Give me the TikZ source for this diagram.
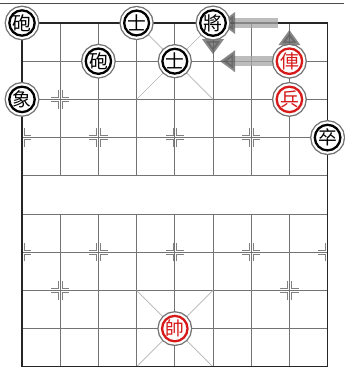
\documentclass[tikz,border=0pt]{standalone}
\usepackage{fontspec}
\newfontfamily\cjk{Noto Sans CJK TC}
\definecolor{xqred}{RGB}{215,25,25}
\usetikzlibrary{arrows.meta}

\begin{document}
\begin{tikzpicture}[
  grid/.style={draw=black!55,line width=0.5pt},
  frame/.style={draw=black!85,line width=0.8pt},
  palace/.style={draw=black!30,line width=0.5pt},
  markline/.style={draw=black!50,line width=0.5pt},
  piece/.style={circle,minimum size=18.5pt,inner sep=0pt,fill=white,
    preaction={draw=black!55,line width=7pt},
    preaction={draw=white,line width=5pt},
    draw=black,line width=1.7pt,font=\cjk\fontsize{14}{14}\selectfont},
  redpiece/.style={piece,draw=xqred,text=xqred},
  move/.style={draw=black!35,opacity=0.75,line width=7pt,
    shorten <=0.3cm,shorten >=0.18cm,
    -{Triangle[length=0.4cm,width=0.55cm,color=black!62]}}
]
  \useasboundingbox (-0.576,0.602) rectangle (8.43,-9.11);
  \foreach \c in {0,...,8}
    \foreach \r in {0,...,9}
      \coordinate (p\c\r) at (\c,-\r);

  % board
  \foreach \r in {1,...,8}
    \draw[grid] (p0\r) -- (p8\r);
  \foreach \c in {1,...,7} {
    \draw[grid] (p\c0) -- (p\c4);
    \draw[grid] (p\c5) -- (p\c9);
  }
  \draw[palace] (p30) -- (p52) (p50) -- (p32);
  \draw[palace] (p37) -- (p59) (p57) -- (p39);
  \draw[frame] (p00) rectangle (p89);

  % cannon and pawn points
  \foreach \c/\r in {1/2,7/2,2/3,4/3,6/3,2/6,4/6,6/6,1/7,7/7}
    \foreach \sx in {-1,1}
      \foreach \sy in {-1,1}
        \draw[markline,shift={(p\c\r)}] (\sx*0.05,\sy*0.24) -- (\sx*0.05,\sy*0.05) -- (\sx*0.24,\sy*0.05);
  \foreach \r in {3,6}
    \foreach \sy in {-1,1} {
      \draw[markline,shift={(p0\r)}] (0.05,\sy*0.24) -- (0.05,\sy*0.05) -- (0.24,\sy*0.05);
      \draw[markline,shift={(p8\r)}] (-0.05,\sy*0.24) -- (-0.05,\sy*0.05) -- (-0.24,\sy*0.05);
    }

  % moves
  \draw[move] (p70) -- (p50);
  \draw[move] (p71) -- (p51);
  \draw[move] (p71) -- (p70);
  \draw[move] (p50) -- (p51);

  % pieces
  \node[piece] (cannonL) at (p00) {砲};
  \node[piece] (advisorL) at (p30) {士};
  \node[piece] (general) at (p50) {將};
  \node[piece] (cannonR) at (p21) {砲};
  \node[piece] (advisorC) at (p41) {士};
  \node[piece] (elephant) at (p02) {象};
  \node[piece] (pawn) at (p83) {卒};
  \node[redpiece] (chariot) at (p71) {俥};
  \node[redpiece] (soldier) at (p72) {兵};
  \node[redpiece] (marshal) at (p48) {帥};

  \draw[black!70,line width=0.6pt] (-0.576,0.524) -- (8.43,0.524);
\end{tikzpicture}
\end{document}
